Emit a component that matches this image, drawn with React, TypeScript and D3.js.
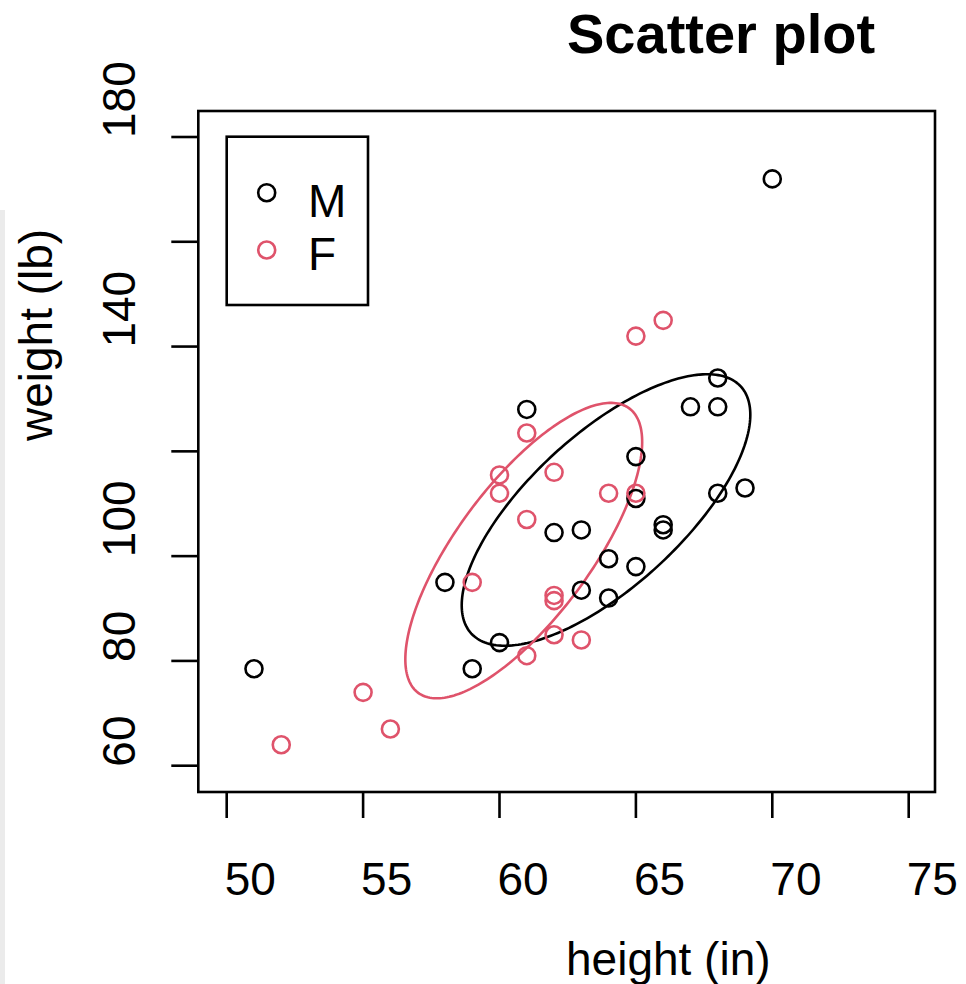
import React from "react";
import * as d3 from "d3";

const heightM = [51, 58, 59, 60, 61, 62, 63, 63, 64, 64, 65, 65, 65, 66, 66, 67, 68, 68, 68, 69, 70];
const weightM = [78.5, 95, 78.5, 83.5, 128, 104.5, 105, 93.5, 99.5, 92, 119, 111, 98, 106, 105, 128.5, 128.5, 134, 112, 113, 172];
const heightF = [52, 55, 56, 59, 60, 60, 61, 61, 61, 62, 62, 62, 62, 63, 64, 65, 65, 66];
const weightF = [64, 74, 67, 95, 115.5, 112, 123.5, 107, 81, 116, 92.5, 91.5, 85, 84, 112, 112, 142, 145];

const xTicks = [50, 55, 60, 65, 70, 75];
const yTicks = [60, 80, 100, 120, 140, 160, 180];
const yTickLabels = ["60", "80", "100", "", "140", "", "180"];
const groups = ["M", "F"];
const colors = ["#000000", "#DF536B"];

function ellipsePoints(xs: number[], ys: number[]) {
  const n = xs.length;
  const mx = d3.mean(xs)!;
  const my = d3.mean(ys)!;
  let sxx = 0, syy = 0, sxy = 0;
  for (let i = 0; i < n; i++) {
    sxx += (xs[i] - mx) ** 2;
    syy += (ys[i] - my) ** 2;
    sxy += (xs[i] - mx) * (ys[i] - my);
  }
  sxx /= n - 1; syy /= n - 1; sxy /= n - 1;
  const nu = n - 1;
  const fq = (nu / 2) * (Math.pow(2, 2 / nu) - 1);
  const c = Math.sqrt(2 * fq);
  const l11 = Math.sqrt(sxx);
  const l21 = sxy / l11;
  const l22 = Math.sqrt(syy - l21 * l21);
  const pts: [number, number][] = [];
  const N = 240;
  for (let k = 0; k <= N; k++) {
    const t = (2 * Math.PI * k) / N;
    const u = Math.cos(t), v = Math.sin(t);
    pts.push([mx + c * l11 * u, my + c * (l21 * u + l22 * v)]);
  }
  return pts;
}

export default function App() {
  const W = 966, H = 984;
  const left = 198.3, right = 935, top = 111, bottom = 792;
  const x = d3.scaleLinear().domain([50, 75]).range([226.7, 908.7]);
  const y = d3.scaleLinear().domain([60, 180]).range([765.7, 137]);
  const font = "'Liberation Sans', Arial, Helvetica, sans-serif";
  const line = d3.line<[number, number]>().x(d => x(d[0])).y(d => y(d[1]));
  const data = [
    { xs: heightM, ys: weightM },
    { xs: heightF, ys: weightF },
  ];
  const r = 8.5;
  const sw = 2.6;
  return (
    <svg width={W} height={H} style={{ position: "absolute", left: 0, top: 0, background: "#fff" }} fontFamily={font}>
      <rect x={0} y={0} width={W} height={H} fill="#fff" />
      <rect x={0} y={210} width={5} height={H - 210} fill="#ebebeb" />
      <text x={567} y={53} fontSize={56} fontWeight="bold" fill="#000">Scatter plot</text>
      {/* ellipses */}
      {data.map((g, i) => (
        <path key={"e" + i} d={line(ellipsePoints(g.xs, g.ys)) || ""} fill="none" stroke={colors[i]} strokeWidth={sw} />
      ))}
      {/* points */}
      {data.map((g, i) =>
        g.xs.map((v, j) => (
          <circle key={"p" + i + "-" + j} cx={x(v)} cy={y(g.ys[j])} r={r} fill="none" stroke={colors[i]} strokeWidth={sw} />
        ))
      )}
      {/* box */}
      <rect x={left} y={top} width={right - left} height={bottom - top} fill="none" stroke="#000" strokeWidth={sw} />
      {/* x axis */}
      {xTicks.map(t => (
        <g key={"xt" + t}>
          <line x1={x(t)} x2={x(t)} y1={bottom} y2={bottom + 26} stroke="#000" strokeWidth={sw} />
          <text x={x(t) - 2} y={895} fontSize={46} fill="#000">{t}</text>
        </g>
      ))}
      {/* y axis */}
      {yTicks.map((t, i) => (
        <g key={"yt" + t}>
          <line x1={left - 27} x2={left} y1={y(t)} y2={y(t)} stroke="#000" strokeWidth={sw} />
          {yTickLabels[i] && (
            <text transform={`translate(135,${y(t) + 1}) rotate(-90)`} fontSize={46} fill="#000">{yTickLabels[i]}</text>
          )}
        </g>
      ))}
      <text x={566} y={975} fontSize={46} fill="#000">height (in)</text>
      <text transform={`translate(52,441) rotate(-90)`} fontSize={46} fill="#000">weight (lb)</text>
      {/* legend */}
      <rect x={226.7} y={136.7} width={368 - 226.7} height={305 - 136.7} fill="#fff" stroke="#000" strokeWidth={sw} />
      {groups.map((gname, i) => (
        <g key={"lg" + i}>
          <circle cx={266.7} cy={192.7 + i * 57.3} r={r} fill="none" stroke={colors[i]} strokeWidth={sw} />
          <text x={308} y={216.7 + i * 53.3} fontSize={46} fill="#000">{gname}</text>
        </g>
      ))}
    </svg>
  );
}
